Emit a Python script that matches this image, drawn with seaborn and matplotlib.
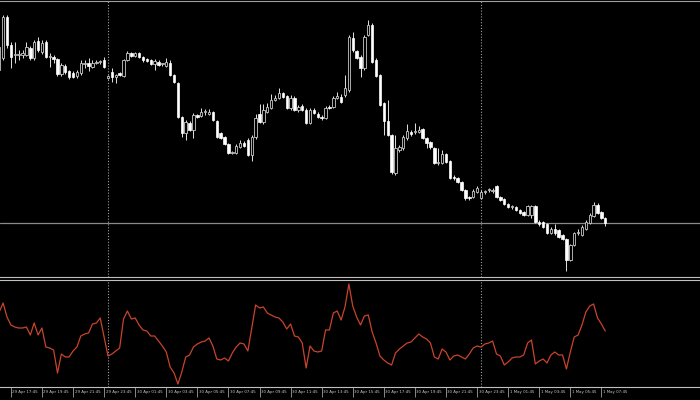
import numpy as np
import pandas as pd
import seaborn as sns
import matplotlib
matplotlib.use("Agg")
import matplotlib.pyplot as plt
import matplotlib.transforms as mtransforms

# 15-minute bars, 29 Apr 17:00 -> 1 May 08:00 (prices in points, arbitrary base)
start_time = "2024-04-29 17:00"

opens = [210, 222, 263, 235, 225, 225, 225, 225, 232, 222, 239, 228, 238, 223, 223, 221,
         206, 214, 209, 207, 204, 207, 216, 217, 213, 217, 218, 220, 202, 208, 203, 207,
         204, 220, 227, 224, 227, 223, 221, 220, 216, 218, 216, 214, 217, 205, 197, 163,
         147, 157, 150, 165, 164, 168, 166, 168, 159, 147, 143, 136, 127, 127, 133, 137,
         140, 125, 143, 166, 158, 168, 172, 180, 182, 187, 184, 172, 182, 170, 174, 170,
         157, 170, 166, 163, 162, 173, 173, 182, 183, 185, 190, 242, 229, 223, 212, 245,
         255, 220, 205, 177, 159, 145, 107, 130, 132, 142, 148, 148, 148, 151, 142, 138,
         132, 117, 117, 126, 119, 103, 102, 98, 90, 83, 83, 88, 82, 88, 90, 89,
         94, 83, 81, 76, 73, 73, 70, 68, 65, 65, 74, 58, 58, 56, 47, 51,
         50, 45, 41, 20, 35, 47, 45, 51, 57, 64, 75, 68, 62]
closes = [233, 263, 235, 223, 225, 225, 227, 233, 222, 238, 230, 237, 223, 223, 221, 206,
          215, 208, 203, 203, 208, 217, 216, 214, 217, 218, 218, 213, 204, 203, 205, 205,
          220, 227, 224, 227, 223, 220, 219, 216, 219, 215, 216, 218, 205, 198, 163, 147,
          158, 150, 165, 163, 168, 168, 168, 160, 143, 142, 136, 127, 127, 134, 137, 134,
          125, 143, 162, 158, 170, 173, 180, 182, 187, 183, 172, 182, 170, 173, 170, 157,
          170, 167, 163, 162, 172, 172, 182, 184, 178, 192, 243, 230, 222, 212, 243, 255,
          218, 204, 175, 159, 145, 108, 132, 133, 143, 149, 146, 148, 150, 142, 137, 133,
          117, 118, 126, 118, 102, 102, 98, 90, 82, 82, 89, 92, 88, 88, 90, 89,
          83, 80, 76, 73, 73, 70, 67, 65, 74, 74, 58, 56, 53, 47, 51, 47,
          43, 41, 20, 35, 47, 47, 53, 58, 65, 75, 67, 62, 57]
highs = [235, 265, 265, 238, 238, 230, 230, 238, 234, 240, 243, 240, 240, 227, 225, 222,
         217, 216, 210, 209, 210, 220, 220, 222, 220, 220, 220, 223, 205, 212, 206, 208,
         221, 229, 228, 228, 228, 224, 222, 221, 221, 220, 217, 222, 220, 206, 198, 164,
         160, 159, 167, 166, 172, 171, 171, 169, 160, 148, 144, 137, 129, 136, 140, 139,
         142, 145, 166, 176, 176, 177, 186, 185, 192, 188, 185, 185, 184, 175, 176, 172,
         172, 172, 168, 165, 174, 175, 184, 188, 186, 205, 245, 248, 230, 225, 245, 260,
         257, 222, 206, 178, 180, 146, 145, 135, 145, 156, 150, 157, 154, 152, 143, 139,
         133, 132, 130, 127, 120, 105, 103, 99, 91, 84, 91, 94, 90, 90, 92, 92,
         95, 84, 82, 77, 75, 74, 71, 69, 75, 75, 75, 60, 59, 57, 53, 56,
         51, 46, 42, 36, 48, 51, 55, 60, 67, 78, 77, 69, 63]
lows = [202, 220, 232, 212, 217, 220, 222, 224, 220, 220, 228, 226, 222, 213, 217, 204,
        204, 206, 201, 202, 202, 205, 212, 209, 212, 216, 216, 212, 201, 198, 197, 204,
        203, 219, 223, 223, 222, 218, 218, 215, 210, 214, 214, 213, 204, 197, 162, 143,
        140, 149, 142, 162, 163, 165, 165, 159, 142, 141, 135, 126, 126, 126, 132, 133,
        124, 119, 141, 157, 156, 167, 171, 179, 181, 182, 171, 170, 169, 168, 169, 156,
        156, 166, 162, 160, 161, 171, 172, 181, 177, 183, 188, 228, 221, 203, 210, 244,
        217, 203, 174, 145, 144, 106, 105, 128, 130, 140, 144, 146, 147, 141, 132, 131,
        116, 115, 116, 117, 101, 100, 97, 89, 80, 80, 82, 87, 81, 86, 88, 87,
        82, 79, 75, 72, 71, 69, 66, 64, 64, 62, 57, 54, 52, 46, 46, 45,
        42, 40, 9, 19, 34, 45, 44, 50, 56, 63, 66, 61, 54]

# oscillator in the lower pane, one value per bar
osc = [78, 87, 73, 65, 63, 62, 62, 63, 55, 67, 55, 62, 43, 42, 40, 17,
       36, 33, 33, 39, 43, 54, 56, 57, 66, 67, 72, 53, 34, 36, 39, 42,
       71, 79, 71, 72, 65, 60, 59, 54, 54, 49, 44, 38, 23, 17, 6, 18,
       33, 35, 43, 46, 48, 49, 52, 44, 31, 30, 32, 29, 37, 43, 47, 46,
       39, 62, 85, 82, 83, 77, 75, 73, 72, 68, 61, 66, 54, 53, 47, 22,
       44, 39, 38, 39, 60, 60, 77, 79, 70, 83, 106, 84, 73, 65, 74, 75,
       58, 47, 34, 30, 27, 25, 37, 41, 44, 47, 48, 52, 56, 53, 51, 47,
       33, 31, 41, 38, 30, 34, 35, 33, 31, 36, 42, 44, 43, 46, 47, 49,
       36, 34, 25, 28, 32, 33, 33, 35, 47, 50, 26, 29, 31, 27, 35, 38,
       35, 35, 21, 38, 53, 55, 65, 78, 84, 86, 72, 66, 59]

first_bar = -28          # bar index of the first candle (0 = 30 Apr 00:00)
day_starts = [0, 96]     # period separators
label_step = 8

df = pd.DataFrame({"open": opens, "high": highs, "low": lows, "close": closes, "osc": osc})
df["bar"] = np.arange(len(df)) + first_bar
df["time"] = pd.date_range(start_time, periods=len(df), freq="15min")
bull = df["close"] >= df["open"]

sns.set_style("dark", {"axes.facecolor": "black", "figure.facecolor": "black"})

fig = plt.figure(figsize=(7, 4), dpi=100)
ax = fig.add_axes([0, 0.3075, 1, 0.69])
ax2 = fig.add_axes([0, 0.0325, 1, 0.26875])

# wicks
ax.vlines(df["bar"], df["low"], df["high"], color="#e0e0e0", lw=0.7, zorder=2)
# bodies
body_lo = np.minimum(df["open"], df["close"])
body_h = np.maximum(np.abs(df["close"] - df["open"]), 0.8)
ax.bar(df["bar"][bull], body_h[bull], bottom=body_lo[bull], width=0.62,
       color="black", edgecolor="#c8c8c8", linewidth=0.6, zorder=3)
ax.bar(df["bar"][~bull], body_h[~bull], bottom=body_lo[~bull], width=0.62,
       color="white", edgecolor="white", linewidth=0.5, zorder=3)

# bid line at last close
ax.axhline(df["close"].iloc[-1], color="#8a8a8a", lw=0.9, zorder=1)

sns.lineplot(data=df, x="bar", y="osc", ax=ax2, color="#c8442c", lw=0.9)

xlim = (-108 / 3.885, 592 / 3.885)
for a in (ax, ax2):
    a.set_xlim(*xlim)
    for d in day_starts:
        a.axvline(d, color="#a0a0a0", lw=0.8, ls=(0, (1, 1.6)), zorder=1)
    a.set_ylabel("")
    a.set_xlabel("")
    a.set_yticks([])
    a.grid(False)
    for s in a.spines.values():
        s.set_visible(False)

ax.set_ylim(3, 279)
ax2.set_ylim(3, 110.5)
ax.set_xticks([])

ax.spines["top"].set_visible(True)
ax.spines["top"].set_color("#a0a0a0")
ax.spines["bottom"].set_visible(True)
ax.spines["bottom"].set_color("#c0c0c0")
ax2.spines["top"].set_visible(True)
ax2.spines["top"].set_color("#c0c0c0")
ax2.spines["bottom"].set_visible(True)
ax2.spines["bottom"].set_color("#c0c0c0")

lab = df[(df["bar"] - first_bar) % label_step == 3]
ax2.set_xticks(lab["bar"])
ax2.set_xticklabels([])
ax2.tick_params(axis="x", direction="out", length=7, width=0.6, color="#a0a0a0", bottom=True)
offset = mtransforms.ScaledTranslation(1.5 / 100, -3 / 100, fig.dpi_scale_trans)
for b, t in zip(lab["bar"], lab["time"]):
    ax2.text(b, 0, f"{t.day} {t:%b %H:%M}", transform=ax2.get_xaxis_transform() + offset,
             ha="left", va="top", fontsize=3.15, color="#c8c8c8",
             family="DejaVu Sans", fontstretch="condensed")

fig.savefig("out.png", dpi=100, facecolor="black")
